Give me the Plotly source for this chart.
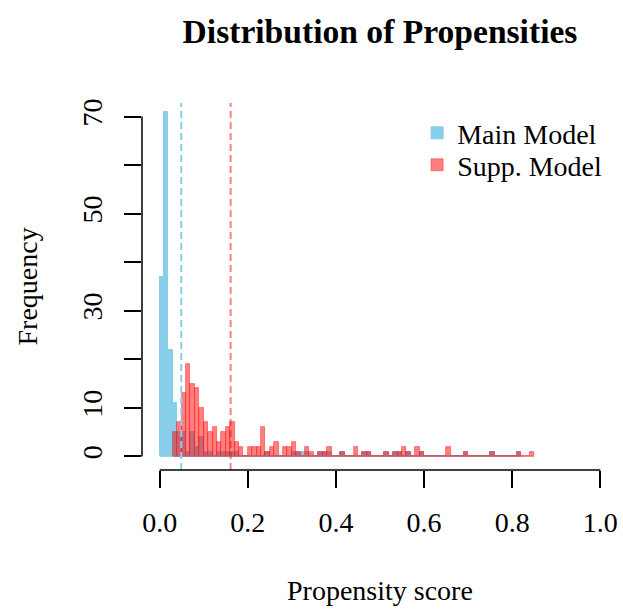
import numpy as np
import plotly.graph_objects as go

# ---- data ----
bin_width = 0.01
bin_start = 0.0

main_counts = [37, 71, 22, 11, 5, 5, 1, 5, 2, 4, 1, 1, 0, 1, 1, 1, 1, 1, 0, 0,
               0, 0, 0, 0, 1, 0, 0, 0, 0, 0, 1, 1, 1, 1, 0, 0, 1, 1, 1, 0,
               0, 1, 0, 0, 0, 0, 1, 1, 0, 0, 0, 1, 0, 1, 1, 0, 1, 0, 0, 1,
               0, 0, 0, 0, 0, 0, 0, 0, 0, 1, 0, 0, 0, 0, 0, 1, 0, 0, 0, 0,
               0, 1]

supp_counts = [0, 0, 0, 5, 7, 13, 19, 15, 14, 10, 7, 5, 6, 3, 5, 6, 7, 3, 2, 0,
               2, 2, 2, 6, 1, 2, 3, 0, 2, 2, 3, 1, 0, 2, 1, 0, 1, 1, 2, 0,
               0, 1, 0, 0, 2, 0, 1, 1, 0, 0, 0, 1, 0, 1, 1, 2, 1, 0, 2, 1,
               0, 0, 0, 0, 0, 2, 0, 0, 0, 1, 0, 0, 0, 0, 0, 1, 0, 0, 0, 0,
               0, 1, 0, 0, 1]

mean_main = 0.049
mean_supp = 0.161

series_names = ["Main Model", "Supp. Model"]
x_tick_vals = [0.0, 0.2, 0.4, 0.6, 0.8, 1.0]
x_tick_text = ["0.0", "0.2", "0.4", "0.6", "0.8", "1.0"]
y_tick_vals = [0, 10, 20, 30, 40, 50, 60, 70]
y_tick_text = ["0", "10", "", "30", "", "50", "", "70"]

# ---- styling ----
BLUE = "#87CEEB"
RED = "rgba(255,0,0,0.5)"
FONT = "Liberation Serif, Times New Roman, serif"


def centers(counts):
    return bin_start + bin_width * (np.arange(len(counts)) + 0.5)


fig = go.Figure()

red_first = next(i for i, c in enumerate(supp_counts) if c > 0)

fig.add_trace(go.Bar(
    x=centers(main_counts), y=main_counts, width=bin_width,
    name=series_names[0], legend="legend",
    marker=dict(color=BLUE, line=dict(color=BLUE, width=1)),
))
fig.add_trace(go.Bar(
    x=centers(supp_counts)[red_first:], y=supp_counts[red_first:], width=bin_width,
    name=series_names[1], legend="legend2",
    marker=dict(color=RED, line=dict(color=RED, width=0.8)),
))
# baselines of zero-count bins (as R draws them)
fig.add_trace(go.Scatter(
    x=[bin_start, bin_start + bin_width * len(main_counts)], y=[0, 0], mode="lines",
    line=dict(color=BLUE, width=1), showlegend=False, hoverinfo="skip"))
fig.add_trace(go.Scatter(
    x=[bin_start + bin_width * red_first, bin_start + bin_width * len(supp_counts)],
    y=[0, 0], mode="lines",
    line=dict(color=RED, width=1), showlegend=False, hoverinfo="skip"))

shapes = []
for m, col in [(mean_main, BLUE), (mean_supp, "rgba(255,0,0,0.5)")]:
    shapes.append(dict(type="line", xref="x", yref="paper", x0=m, x1=m, y0=0, y1=1,
                       line=dict(color=col, width=2, dash="7px,4px")))
# axis lines (R style: from first to last tick)
shapes.append(dict(type="line", xref="x", yref="paper", x0=x_tick_vals[0], x1=x_tick_vals[-1],
                   y0=0, y1=0, line=dict(color="black", width=1.5)))
shapes.append(dict(type="line", xref="paper", yref="y", x0=0, x1=0,
                   y0=y_tick_vals[0], y1=y_tick_vals[-1], line=dict(color="black", width=1.5)))

W, H = 623, 609
L, T, PW, PH = 142, 103, 476, 367

leg_common = dict(xanchor="left", yanchor="top", bgcolor="rgba(0,0,0,0)",
                  font=dict(size=28, family=FONT))

fig.update_layout(
    width=W, height=H,
    margin=dict(l=L, r=W - L - PW, t=T, b=H - T - PH),
    paper_bgcolor="white", plot_bgcolor="white",
    barmode="overlay", bargap=0,
    font=dict(family=FONT, size=28, color="black"),
    title=dict(text="<b>Distribution of Propensities</b>", x=380 / W, xanchor="center",
               y=1 - 31 / H, yanchor="middle", font=dict(size=33.6, family=FONT)),
    xaxis=dict(range=[-0.04, 1.04], tickvals=x_tick_vals, ticktext=x_tick_text,
               ticks="outside", ticklen=17, tickwidth=1.5, tickcolor="black",
               showgrid=False, zeroline=False, showline=False, ticklabelstandoff=10,
               tickfont=dict(size=28, family=FONT)),
    yaxis=dict(range=[-2.8, 72.8], tickvals=y_tick_vals, ticktext=y_tick_text,
               ticks="outside", ticklen=17, tickwidth=1.5, tickcolor="black",
               tickangle=-90, showgrid=False, zeroline=False, showline=False,
               ticklabelstandoff=11, tickfont=dict(size=28, family=FONT)),
    shapes=shapes,
    legend=dict(x=0.578, y=0.986, **leg_common),
    legend2=dict(x=0.578, y=0.899, **leg_common),
    annotations=[
        dict(text="Propensity score", xref="paper", yref="paper", x=0.5,
             y=-(590 - (T + PH)) / PH, xanchor="center", yanchor="middle", showarrow=False,
             font=dict(size=28, family=FONT)),
        dict(text="Frequency", xref="paper", yref="paper", x=(27 - L) / PW,
             y=0.5, xanchor="center", yanchor="middle", textangle=-90, showarrow=False,
             font=dict(size=28, family=FONT)),
    ],
)

fig.write_html("out.html", config={"displayModeBar": False},
               post_script="document.body.style.margin='0';document.body.style.overflow='hidden';")
